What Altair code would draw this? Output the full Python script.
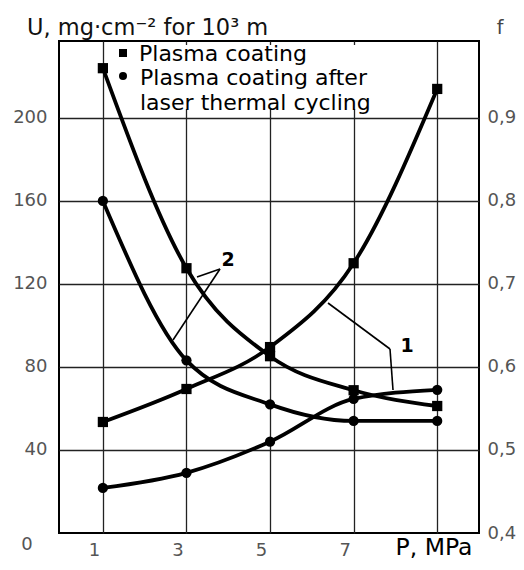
import altair as alt
import pandas as pd

# ---- data ----
P = [1, 3, 5, 7, 9]
series_names = ["Plasma coating", "Plasma coating after laser thermal cycling"]
# curves "1" : wear U (left axis)
U_plasma = [53.5, 69.4, 89.6, 130.0, 214.0]
U_laser = [21.7, 29.0, 44.0, 64.6, 69.0]
# curves "2" : friction coefficient f (right axis)
f_plasma = [0.960, 0.719, 0.613, 0.572, 0.553]
f_laser = [0.800, 0.608, 0.555, 0.535, 0.535]

x_ticks = [1, 3, 5, 7, 9]
u_ticks = [40, 80, 120, 160, 200]
f_ticks = [0.4, 0.5, 0.6, 0.7, 0.8, 0.9]

title_text = "U, mg·cm⁻²  for 10³ m"
legend_lines = ["Plasma coating", "Plasma coating after", "laser thermal cycling"]

left_df = pd.DataFrame({
    "P": P + P,
    "U": U_plasma + U_laser,
    "series": [series_names[0]] * 5 + [series_names[1]] * 5,
})
right_df = pd.DataFrame({
    "P": P + P,
    "f": f_plasma + f_laser,
    "series": [series_names[0]] * 5 + [series_names[1]] * 5,
})

FONT = "DejaVu Sans"
U_MAX = 237.1
F_MIN, F_MAX = 0.4, 0.4 + U_MAX / 400

xscale = alt.Scale(domain=[-0.05, 10], nice=False, zero=False)
xaxis = alt.Axis(values=x_ticks, labelExpr="datum.value == 9 ? '' : datum.label",
                 grid=True, gridColor="#222", gridWidth=1.3, ticks=False, domain=False,
                 labelOffset=-9, labelPadding=8, labelFontSize=18, labelColor="#555",
                 labelFont=FONT, title=None)
yl_scale = alt.Scale(domain=[0, U_MAX], nice=False, zero=False)
yl_axis = alt.Axis(values=u_ticks, grid=True, gridColor="#222", gridWidth=1.3, ticks=False,
                   domain=False, labelPadding=12, labelFontSize=18, labelColor="#555",
                   labelFont=FONT, title=None)
yr_scale = alt.Scale(domain=[F_MIN, F_MAX], nice=False, zero=False)
yr_axis = alt.Axis(values=f_ticks, orient="right", grid=False, ticks=False, domain=False,
                   labelExpr="replace(format(datum.value, '.1f'), '.', ',')",
                   labelPadding=8, labelFontSize=18, labelColor="#555", labelFont=FONT,
                   title=None)
shape_scale = alt.Scale(domain=series_names, range=["square", "circle"])

line_left = alt.Chart(left_df).mark_line(color="black", strokeWidth=3.8, interpolate="monotone").encode(
    x=alt.X("P:Q", scale=xscale, axis=xaxis),
    y=alt.Y("U:Q", scale=yl_scale, axis=yl_axis),
    detail="series:N",
)
pts_left = alt.Chart(left_df).mark_point(filled=True, color="black", opacity=1).encode(
    x=alt.X("P:Q", scale=xscale, axis=xaxis),
    y=alt.Y("U:Q", scale=yl_scale, axis=yl_axis),
    shape=alt.Shape("series:N", scale=shape_scale, legend=None),
    size=alt.value(105),
)
line_right = alt.Chart(right_df).mark_line(color="black", strokeWidth=3.8, interpolate="monotone").encode(
    x=alt.X("P:Q", scale=xscale, axis=xaxis),
    y=alt.Y("f:Q", scale=yr_scale, axis=yr_axis),
    detail="series:N",
)
pts_right = alt.Chart(right_df).mark_point(filled=True, color="black", opacity=1).encode(
    x=alt.X("P:Q", scale=xscale, axis=xaxis),
    y=alt.Y("f:Q", scale=yr_scale, axis=yr_axis),
    shape=alt.Shape("series:N", scale=shape_scale, legend=None),
    size=alt.value(105),
)

left_group = alt.layer(line_left, pts_left)
right_group = alt.layer(line_right, pts_right)

one = pd.DataFrame({"a": [0]})

def rule(x1, y1, x2, y2, w=1.6):
    return alt.Chart(one).mark_rule(color="black", strokeWidth=w).encode(
        x=alt.value(x1), y=alt.value(y1), x2=alt.value(x2), y2=alt.value(y2))

def label(text, x, y, size=18, color="black", weight="normal", align="center", font=FONT):
    return alt.Chart(pd.DataFrame({"t": [text]})).mark_text(
        fontSize=size, color=color, fontWeight=weight, align=align, baseline="middle", font=font
    ).encode(x=alt.value(x), y=alt.value(y), text="t:N")

box = alt.Chart(one).mark_rect(color="white").encode(
    x=alt.value(54), x2=alt.value(334), y=alt.value(4), y2=alt.value(68))

leg_sq = alt.Chart(one).mark_point(shape="square", filled=True, color="black", opacity=1, size=64).encode(
    x=alt.value(64), y=alt.value(12))
leg_ci = alt.Chart(one).mark_point(shape="circle", filled=True, color="black", opacity=1, size=64).encode(
    x=alt.value(64), y=alt.value(35))

texts = [
    label(title_text, -32, -13, size=22.5, color="#111", align="left"),
    label("f", 441, -13, size=19, color="#444"),
    label("0", -32, 504, size=18, color="#555"),
    label("P, MPa", 375, 507, size=23.5, color="black"),
    label("1", 348, 305, size=19, weight="bold"),
    label("2", 169, 219, size=19, weight="bold"),
    label(legend_lines[0], 80, 13, size=22, align="left"),
    label(legend_lines[1], 81, 37, size=22, align="left"),
    label(legend_lines[2], 81, 62, size=22, align="left"),
]

leaders = [
    rule(269, 262, 331, 308), rule(331, 308, 334, 349),
    rule(161, 228, 138, 236), rule(161, 228, 114, 299),
]

chart = alt.layer(
    box, left_group, right_group, *leaders, leg_sq, leg_ci, *texts
).resolve_scale(y="independent").properties(
    width=420, height=492,
    padding={"left": 51, "top": 33, "right": 37, "bottom": 29},
    autosize=alt.AutoSizeParams(type="none"),
).configure_view(stroke="black", strokeWidth=2)

chart.save("out.html", embed_options={"renderer": "svg", "actions": False})
